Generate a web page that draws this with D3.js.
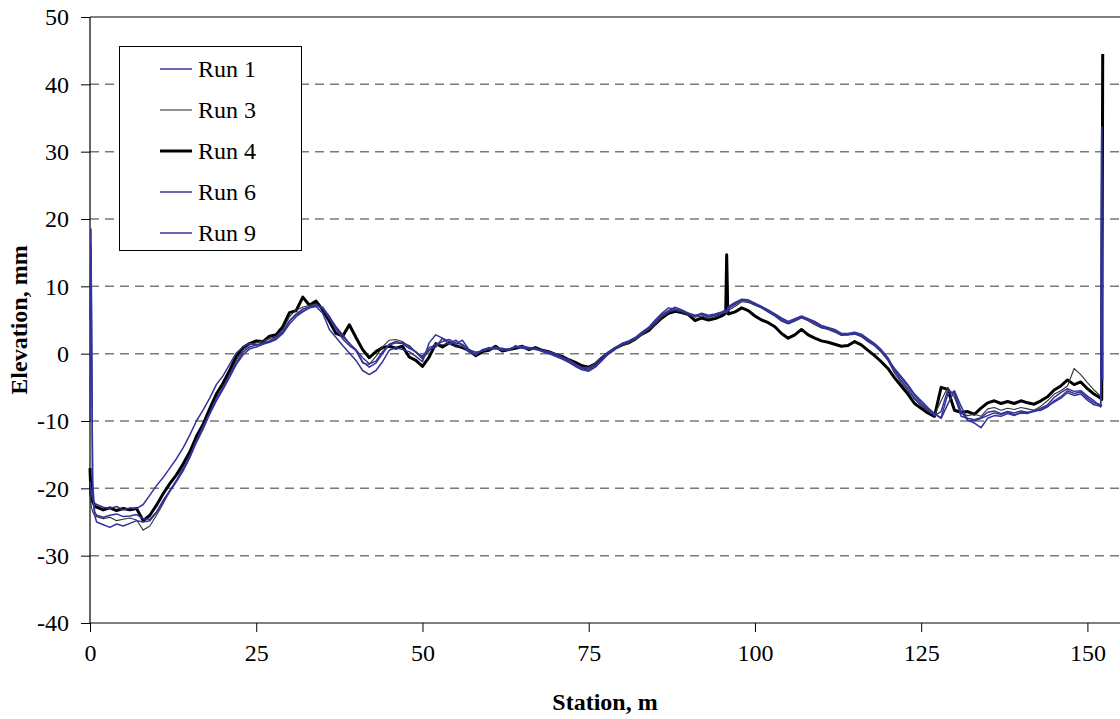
<!DOCTYPE html>
<html>
<head>
<meta charset="utf-8">
<script src="https://cdn.jsdelivr.net/npm/d3@7"></script>
<style>
  html, body { margin: 0; padding: 0; background: #fff; }
  svg { display: block; }
  text { font-family: "Liberation Serif", "Times New Roman", serif; fill: #000; }
</style>
</head>
<body>
<svg id="chart" width="1120" height="719"></svg>
<script>
// ---- data ----
const station = [0, 0.15, 0.4, 0.7,
  1,2,3,4,5,6,7,8,9,10,
  11,12,13,14,15,16,17,18,19,20,
  21,22,23,24,25,26,27,28,29,30,
  31,32,33,34,35,36,37,38,39,40,
  41,42,43,44,45,46,47,48,49,50,
  51,52,53,54,55,56,57,58,59,60,
  61,62,63,64,65,66,67,68,69,70,
  71,72,73,74,75,76,77,78,79,80,
  81,82,83,84,85,86,87,88,89,90,
  91,92,93,94,95,
  95.6, 95.75, 95.9,
  96,97,98,99,100,101,102,103,104,105,
  106,107,108,109,110,111,112,113,114,115,
  116,117,118,119,120,121,122,123,124,125,
  126,127,128,129,130,131,132,133,134,135,
  136,137,138,139,140,141,142,143,144,145,
  146,147,148,149,150,151,
  152, 152.15, 152.3];

const run1 = [-19, -20.5, -21.5, -22.2,
  -22.4,-22.8,-23.0,-22.7,-23.2,-22.9,-23.0,-22.4,-21.0,-19.6,
  -18.4,-17.0,-15.6,-14.0,-12.1,-10.0,-8.4,-6.6,-4.6,-3.3,
  -1.6,0.1,1.0,1.5,1.3,1.6,1.9,2.5,3.3,4.8,
  5.8,6.3,6.8,7.2,6.9,5.4,4.0,2.8,1.5,0.6,
  -0.6,-1.5,-1.1,0.3,1.4,1.8,1.6,1.2,0.2,-0.4,
  0.9,1.3,1.8,2.1,1.6,1.4,0.6,0.2,0.4,0.8,
  1.0,0.7,0.6,1.0,1.1,0.9,0.7,0.5,0.3,0.0,
  -0.5,-0.9,-1.6,-2.0,-2.1,-1.4,-0.5,0.3,0.9,1.5,
  1.8,2.2,3.0,3.8,4.6,5.7,6.3,6.6,6.3,6.0,
  5.6,5.8,5.4,5.7,6.0,
  6.2,6.4,6.3,
  6.7,7.3,7.9,7.8,7.4,6.9,6.4,5.8,5.1,4.6,
  5.0,5.5,5.1,4.6,4.1,3.8,3.4,2.9,2.8,3.1,
  2.7,2.0,1.4,0.4,-0.8,-2.6,-4.0,-5.2,-6.6,-7.6,
  -8.4,-9.2,-8.6,-5.4,-6.0,-9.3,-9.6,-9.8,-9.5,-8.7,
  -8.5,-8.9,-8.6,-8.8,-8.5,-8.7,-8.6,-8.1,-7.6,-6.5,
  -5.8,-5.2,-5.6,-5.5,-6.3,-7.0,
  -7.9,-7.6,null];

const run3 = [-20, -22.5, -23.5, -24.0,
  -24.2,-24.5,-24.3,-24.8,-24.6,-24.4,-24.7,-26.2,-25.6,-24.0,
  -22.3,-20.4,-18.9,-17.3,-15.5,-13.1,-11.0,-8.9,-6.8,-4.9,
  -3.0,-1.0,0.5,1.3,1.6,1.9,2.2,2.6,3.6,5.5,
  6.5,6.9,7.2,7.4,6.8,5.6,3.9,2.5,1.6,0.4,
  -1.4,-1.6,-0.4,1.0,2.0,2.1,1.8,1.0,0.2,-0.8,
  0.4,1.6,1.3,1.5,1.0,1.1,0.2,0.0,0.5,0.7,
  0.9,0.6,0.5,0.9,1.0,0.7,0.8,0.4,0.2,-0.2,
  -0.6,-1.0,-1.5,-2.1,-2.3,-1.7,-0.8,0.0,0.7,1.2,
  1.5,2.0,2.8,3.5,4.3,5.4,6.1,6.4,6.2,5.7,
  5.4,5.6,5.2,5.5,5.9,
  6.1,6.0,6.2,
  6.4,7.0,7.7,7.6,7.2,6.8,6.2,5.6,4.8,4.4,
  4.8,5.3,4.9,4.3,3.8,3.6,3.2,2.7,2.8,3.0,
  2.5,1.9,1.2,0.2,-1.0,-2.9,-4.3,-5.5,-6.8,-7.7,
  -8.5,-9.1,-7.0,-5.0,-6.5,-8.9,-9.2,-9.0,-9.3,-8.2,
  -8.0,-8.4,-8.1,-8.3,-8.0,-8.2,-8.4,-7.8,-7.0,-6.0,
  -5.5,-4.8,-2.2,-3.1,-4.3,-5.4,
  -6.3,-6.5,null];

const run4 = [-17, -21, -22, -22.6,
  -22.8,-23.2,-22.9,-23.3,-23.0,-23.2,-23.0,-24.8,-24.0,-22.5,
  -20.8,-19.3,-18.0,-16.4,-14.6,-12.3,-10.5,-8.2,-6.0,-4.4,
  -2.5,-0.4,0.9,1.5,1.9,1.8,2.6,2.8,4.0,6.1,
  6.4,8.4,7.2,7.8,6.5,4.8,3.0,2.6,4.3,2.4,
  0.6,-0.6,0.3,0.9,1.1,0.8,1.1,-0.5,-1.0,-1.9,
  -0.5,1.5,1.0,1.6,1.2,0.9,0.5,-0.3,0.3,0.5,
  1.1,0.4,0.6,0.8,1.1,0.6,0.9,0.5,0.3,-0.1,
  -0.4,-0.9,-1.3,-1.8,-2.0,-1.5,-0.6,0.1,0.8,1.3,
  1.6,2.2,2.9,3.4,4.4,5.3,6.0,6.3,6.1,5.8,
  4.9,5.3,5.0,5.2,5.6,
  6.0,14.7,7.0,
  5.9,6.2,6.8,6.4,5.6,5.0,4.6,4.0,3.0,2.3,
  2.8,3.6,2.8,2.3,1.9,1.7,1.4,1.1,1.2,1.8,
  1.3,0.5,-0.3,-1.2,-2.2,-3.6,-4.8,-6.0,-7.4,-8.1,
  -8.8,-9.3,-5.0,-5.3,-8.4,-8.7,-8.6,-9.0,-8.1,-7.3,
  -7.0,-7.4,-7.1,-7.4,-7.0,-7.3,-7.5,-7.0,-6.4,-5.4,
  -4.8,-3.9,-4.6,-4.2,-5.2,-6.0,
  -6.6,-6.8,44.5];

const run6 = [-10, 16, -19, -23.5,
  -24.0,-24.3,-24.0,-23.8,-24.2,-24.1,-23.9,-24.5,-24.6,-23.5,
  -21.8,-20.3,-18.8,-17.0,-15.2,-12.9,-10.8,-8.8,-6.6,-5.1,
  -3.2,-1.4,0.2,1.0,1.3,1.5,1.8,2.3,3.2,4.9,
  5.9,6.6,7.0,7.2,6.7,5.2,3.7,2.2,1.2,0.5,
  -1.2,-2.0,-1.4,0.0,1.3,1.6,1.5,0.8,0.3,-0.6,
  0.6,1.0,2.3,1.8,1.4,2.0,0.6,-0.2,0.5,0.6,
  0.8,0.5,0.7,1.0,0.9,0.8,0.6,0.4,0.1,-0.3,
  -0.7,-1.2,-1.7,-2.2,-2.5,-1.9,-0.9,0.1,0.8,1.4,
  1.7,2.3,3.1,3.7,4.8,5.8,6.4,6.9,6.5,6.0,
  5.7,5.9,5.5,5.8,6.1,
  6.3,6.2,6.5,
  6.8,7.5,8.1,8.0,7.5,7.0,6.5,5.9,5.3,4.8,
  5.2,5.6,5.2,4.8,4.2,3.9,3.6,3.0,3.0,3.2,
  2.9,2.2,1.5,0.6,-0.6,-2.4,-3.6,-4.8,-6.2,-7.3,
  -8.2,-9.0,-9.5,-6.0,-5.6,-8.6,-9.9,-10.0,-9.6,-9.2,
  -8.8,-9.0,-8.7,-9.1,-8.8,-8.9,-8.5,-8.4,-7.9,-7.0,
  -6.4,-5.5,-5.9,-5.7,-6.6,-7.3,
  -7.6,33.5,-4.0];

const run9 = [5, 18.5, -21, -24,
  -25.0,-25.4,-25.8,-25.3,-25.6,-25.2,-24.8,-25.0,-24.8,-23.6,
  -22.0,-20.5,-19.0,-17.4,-15.4,-13.2,-11.2,-9.0,-7.0,-5.3,
  -3.5,-1.6,-0.2,0.7,1.0,1.4,1.7,2.1,3.0,4.4,
  5.5,6.2,6.8,7.0,6.0,3.6,2.4,1.2,0.1,-1.0,
  -2.5,-3.1,-2.5,-1.2,0.5,0.9,0.6,0.3,-0.4,-1.2,
  1.6,2.8,2.3,1.4,2.0,1.2,0.3,-0.2,0.6,0.9,
  0.7,0.8,0.5,1.2,0.8,0.7,0.8,0.3,0.0,-0.4,
  -0.8,-1.3,-1.9,-2.4,-2.6,-2.0,-1.0,0.0,0.7,1.5,
  1.9,2.4,3.2,3.9,5.0,6.0,6.8,6.6,6.4,5.9,
  5.6,6.0,5.7,5.9,6.2,
  6.5,6.3,6.7,
  7.0,7.6,8.0,7.8,7.3,6.8,6.2,5.6,5.0,4.5,
  5.0,5.4,5.0,4.5,3.9,3.7,3.3,2.8,2.8,2.9,
  2.6,1.8,1.2,0.3,-0.9,-2.2,-3.4,-4.6,-6.0,-7.0,
  -8.0,-8.9,-9.6,-7.5,-5.5,-7.8,-9.9,-10.3,-11.0,-9.6,
  -9.2,-9.3,-8.9,-9.2,-8.7,-8.8,-8.4,-8.2,-7.8,-7.2,
  -6.6,-5.8,-6.2,-6.0,-6.9,-7.6,
  -7.8,33.8,null];

const seriesNames = ["Run 1", "Run 3", "Run 4", "Run 6", "Run 9"];
const xTicks = [0, 25, 50, 75, 100, 125, 150];
const yTicks = [-40, -30, -20, -10, 0, 10, 20, 30, 40, 50];

// ---- styles ----
const styles = {
  "Run 1": { color: "#333399", width: 1.5 },
  "Run 3": { color: "#333333", width: 1.1 },
  "Run 4": { color: "#000000", width: 3 },
  "Run 6": { color: "#333399", width: 1.5 },
  "Run 9": { color: "#333399", width: 1.5 }
};
const values = { "Run 1": run1, "Run 3": run3, "Run 4": run4, "Run 6": run6, "Run 9": run9 };
const drawOrder = ["Run 4", "Run 3", "Run 1", "Run 6", "Run 9"];

const svg = d3.select("#chart");
const x = d3.scaleLinear().domain([0, 154.9]).range([90, 1120]);
const y = d3.scaleLinear().domain([-40, 50]).range([623, 17]);

// grid lines
svg.append("g").selectAll("line")
  .data(yTicks.filter(t => t > -40 && t < 50))
  .join("line")
  .attr("x1", 90).attr("x2", 1120)
  .attr("y1", d => y(d)).attr("y2", d => y(d))
  .attr("stroke", "#7a7a7a").attr("stroke-width", 1.5)
  .attr("stroke-dasharray", "9,6");

// top border
svg.append("line").attr("x1", 90).attr("x2", 1120)
  .attr("y1", y(50)).attr("y2", y(50))
  .attr("stroke", "#000").attr("stroke-width", 1);

// axes
const fmt = d => String(d);
const yAxis = d3.axisLeft(y).tickValues(yTicks).tickSize(9).tickPadding(12).tickFormat(fmt);
const gy = svg.append("g").attr("transform", "translate(90,0)").call(yAxis);
const xAxis = d3.axisBottom(x).tickValues(xTicks).tickSize(9).tickPadding(12).tickFormat(fmt);
const gx = svg.append("g").attr("transform", "translate(0,623)").call(xAxis);
[gx, gy].forEach(g => {
  g.select(".domain").attr("stroke", "#000").attr("stroke-width", 1.2);
  g.selectAll(".tick line").attr("stroke", "#000").attr("stroke-width", 1);
  g.selectAll(".tick text")
    .attr("font-family", "Liberation Serif, Times New Roman, serif")
    .attr("font-size", 24).attr("fill", "#000");
});
gy.select(".domain").attr("d", `M0,${y(-40)}V${y(50)}`);
gx.select(".domain").attr("d", `M${x(0)},0H1120`);

// lines
const line = d3.line()
  .defined(d => d[1] !== null)
  .x(d => x(d[0]))
  .y(d => y(d[1]));

drawOrder.forEach(name => {
  const data = station.map((s, i) => [s, values[name][i]]);
  svg.append("path")
    .datum(data)
    .attr("fill", "none")
    .attr("stroke", styles[name].color)
    .attr("stroke-width", styles[name].width)
    .attr("stroke-linejoin", "round")
    .attr("d", line);
});

// axis titles
svg.append("text")
  .attr("x", 605).attr("y", 710)
  .attr("text-anchor", "middle")
  .attr("font-weight", "bold").attr("font-size", 24)
  .text("Station, m");
svg.append("text")
  .attr("transform", `translate(27,${(y(-40) + y(50)) / 2}) rotate(-90)`)
  .attr("text-anchor", "middle")
  .attr("font-weight", "bold").attr("font-size", 24)
  .text("Elevation, mm");

// legend
const lg = svg.append("g");
lg.append("rect").attr("x", 119.5).attr("y", 46.5).attr("width", 182).attr("height", 204)
  .attr("fill", "#fff").attr("stroke", "#000").attr("stroke-width", 1);
seriesNames.forEach((name, i) => {
  const cy = 69 + i * 41;
  lg.append("line").attr("x1", 160).attr("x2", 192).attr("y1", cy).attr("y2", cy)
    .attr("stroke", styles[name].color).attr("stroke-width", styles[name].width);
  lg.append("text").attr("x", 198).attr("y", cy + 8)
    .attr("font-size", 24).text(name);
});
</script>
</body>
</html>
